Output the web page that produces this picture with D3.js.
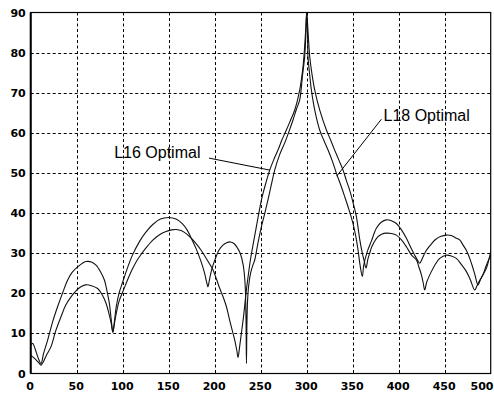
<!DOCTYPE html>
<html>
<head>
<meta charset="utf-8">
<script src="https://cdn.jsdelivr.net/npm/d3@7"></script>
<style>
  html, body { margin: 0; padding: 0; background: #fff; }
  svg { display: block; }
</style>
</head>
<body>
<svg id="chart" width="494" height="394"></svg>
<script>
// ---- data ----
const xTicks = [0, 50, 100, 150, 200, 250, 300, 350, 400, 450, 500];
const yTicks = [0, 10, 20, 30, 40, 50, 60, 70, 80, 90];

const l16X = [0,3,5.8,9,11.2,13.5,17,22.1,27,33,38,43.8,50,55,60,66,72.8,78,81.9,85,87.5,89.3,91,93,96,100,105,110,115,120,126,133,140,147,153,158.3,164,170,175,180,185,190,194,198.2,202,205,209,212.7,216,219,221.7,224,225.4,227,229,231.5,234.4,236.5,238.8,242,245.3,248,250.8,255,259.8,264,268.8,273,277.9,282.5,287,292.4,296,298.9,300,301.5,303.3,305.5,308.7,314.1,321.4,326,330.4,335,339.5,343,346.7,350.5,354,357.6,360,362.5,364.5,366.5,368.5,371,377.5,382,386.6,392,397.5,403,408.4,414,419.2,422,424.7,426.7,428.3,430.5,435.5,440,444.6,451.8,457,462.7,468,473.6,478,482.6,485,488,491.6,495.3,500];
const l16Y = [4.6,4.0,3.4,2.6,2.1,2.8,4.5,6.7,10.5,14.2,17,19.1,20.8,21.7,22.1,21.9,21.2,19.5,17.5,15,12.5,10.3,12.5,15,18,20.3,23.2,25.8,28,29.7,31.5,33.3,34.6,35.4,35.8,35.9,35.6,34.7,33.6,32.3,30.8,29,27.5,25.8,23.5,21.5,19.2,16.7,13.5,10.8,8.4,5.8,4.0,6.5,10,14.5,20.8,24.5,28.3,32.5,36.6,40,43.3,47,50.7,53.2,55.7,58.2,60.7,63.2,65.7,70.7,76.5,85.6,90,85,79,75,70.7,65.7,60.7,58.2,55.7,53.2,50.7,48.2,45.7,42.5,39.1,33.5,30.5,28,26.3,28.5,30,31.7,34.1,34.8,35.0,34.9,34.5,33.3,31.6,29.5,28.3,26.5,24.6,22.5,20.8,22.8,25.4,27.3,28.7,29.5,29.3,28.7,27.2,25.4,23.3,20.8,21.8,23.2,24.6,27,29.5];

const l18X = [0,2.2,5,7.6,11.2,14,18.5,24,29.3,35,40.2,45,51.1,60,66,71,76,80.1,83,85.5,87.5,89.3,91,93,96,100,105,110,118.5,125,133,141,150,158,165,170,175,180,185,189,191.5,192.7,194,196,198.2,201.8,205,209,213,217,221,225,228,231,233,234,234.5,235,235.7,237,239,241.5,243.5,247,250.8,254.5,257.9,261.5,265.2,270.5,276.1,281,285.1,289,292.4,295.3,297.8,299,300,301,301.4,303,305.1,308.7,314.1,318.5,323.2,328,332.3,337,341.3,346,350.3,353.5,355.8,358,360.5,362,366,370.3,375.7,381,386.6,392,397.5,403,408.4,413,417.4,420.5,422.8,425.5,429,433.7,440,446,451.8,457,462,466.3,470,474,477.2,480,483,486.2,489,492,495.3,500];
const l18Y = [7.1,7.5,6.0,4.2,2.5,5,8.4,13,16.7,20.3,23.3,25.2,26.6,27.9,27.8,27.0,25.3,23.3,20.5,17.5,13.5,10.3,13,16.7,20,22.8,26.2,29.2,33,35.2,37.2,38.5,38.9,38.5,37.3,35.8,33.5,31,28,25,22.5,21.6,23,25.2,27,29.3,30.9,32.0,32.6,32.8,32.4,31.2,29.8,27,22.5,14,2.5,12,18,22,25,27,28.3,32.5,36.6,40,43.3,47,50.7,54.5,57.5,60.5,63.2,66,68.2,74.0,79.0,84,90,84,79,75,70.7,65.7,60.7,58.2,55.7,52.9,49.9,47,44.1,40.8,37.4,34,30.8,27,24.2,27,30.5,33,36.2,37.7,38.3,38.1,37.4,35.8,33.7,31.5,29.5,28.2,27.5,28.6,30.3,31.8,33.4,34.2,34.5,34.4,33.8,33.3,32,30.5,28.7,26.8,24.5,22.1,23.5,24.8,26.2,30.4];

const labels = ["L16 Optimal", "L18 Optimal"];
// annotation anchor points in data units
const labelText = [[184.5, 53.8], [383.5, 63.0]];
const leaderFrom = [[193.8, 53.7], [381.2, 63.4]];
const leaderTo = [[260.1, 50.7], [332.6, 49.2]];

// ---- layout ----
const svg = d3.select("#chart");
const W = 494, H = 394;
const mLeft = 30.7, mRight = 490.7, mTop = 12.5, mBottom = 373.5;

const x = d3.scaleLinear().domain([0, 500]).range([mLeft, mRight]);
const y = d3.scaleLinear().domain([0, 90]).range([mBottom, mTop]);

svg.append("rect").attr("width", W).attr("height", H).attr("fill", "#fff");

// grid
const grid = svg.append("g").attr("stroke", "#000").attr("stroke-width", 1)
  .attr("stroke-dasharray", "3,2.5").attr("fill", "none");
grid.selectAll("line.v").data(xTicks.filter(d => d > 0 && d < 500)).join("line")
  .attr("class", "v")
  .attr("x1", d => Math.round(x(d)) + 0.5).attr("x2", d => Math.round(x(d)) + 0.5)
  .attr("y1", mTop).attr("y2", mBottom);
grid.selectAll("line.h").data(yTicks.filter(d => d > 0 && d < 90)).join("line")
  .attr("class", "h")
  .attr("y1", d => Math.round(y(d)) + 0.5).attr("y2", d => Math.round(y(d)) + 0.5)
  .attr("x1", mLeft).attr("x2", mRight);

// curves
const clipId = "plotclip";
svg.append("clipPath").attr("id", clipId).append("rect")
  .attr("x", mLeft).attr("y", mTop - 1).attr("width", mRight - mLeft).attr("height", mBottom - mTop + 1);

const line = d3.line().x(d => x(d[0])).y(d => y(d[1])).curve(d3.curveCatmullRom.alpha(0.5));
const series = [d3.zip(l16X, l16Y), d3.zip(l18X, l18Y)];
svg.append("g").attr("clip-path", `url(#${clipId})`)
  .selectAll("path").data(series).join("path")
  .attr("d", line).attr("fill", "none").attr("stroke", "#111").attr("stroke-width", 1.1);

// frame
svg.append("rect").attr("x", mLeft).attr("y", mTop).attr("width", mRight - mLeft).attr("height", mBottom - mTop)
  .attr("fill", "none").attr("stroke", "#000").attr("stroke-width", 1.2);
svg.append("line").attr("x1", mLeft).attr("x2", mLeft).attr("y1", mTop).attr("y2", mBottom)
  .attr("stroke", "#000").attr("stroke-width", 2);

// axes labels
const fontFam = "'DejaVu Sans', sans-serif";
const xAxis = svg.append("g").attr("transform", `translate(0,${mBottom})`)
  .call(d3.axisBottom(x).tickValues(xTicks).tickSize(0).tickPadding(8.5).tickFormat(d3.format("d")));
xAxis.select(".domain").remove();
xAxis.selectAll("text").attr("font-family", fontFam).attr("font-weight", "bold")
  .attr("font-size", 11).attr("fill", "#000").attr("dx", -1);
// keep the last label fully inside the page (the reference shows it at the right edge)
xAxis.selectAll(".tick").filter(d => d === 500).select("text")
  .attr("text-anchor", "end").attr("dx", W - 1 - x(500));

const yAxis = svg.append("g").attr("transform", `translate(${mLeft},0)`)
  .call(d3.axisLeft(y).tickValues(yTicks).tickSize(0).tickPadding(5).tickFormat(d3.format("d")));
yAxis.select(".domain").remove();
yAxis.selectAll("text").attr("font-family", fontFam).attr("font-weight", "bold")
  .attr("font-size", 11).attr("fill", "#000");

// annotations
const ann = svg.append("g");
ann.selectAll("line").data(labels).join("line")
  .attr("x1", (d, i) => x(leaderFrom[i][0])).attr("y1", (d, i) => y(leaderFrom[i][1]))
  .attr("x2", (d, i) => x(leaderTo[i][0])).attr("y2", (d, i) => y(leaderTo[i][1]))
  .attr("stroke", "#000").attr("stroke-width", 1);
ann.selectAll("text").data(labels).join("text")
  .attr("x", (d, i) => x(labelText[i][0])).attr("y", (d, i) => y(labelText[i][1]))
  .attr("text-anchor", (d, i) => i === 0 ? "end" : "start")
  .attr("font-family", "'Liberation Sans', Arial, sans-serif").attr("font-size", 16)
  .attr("fill", "#000").text(d => d);
</script>
</body>
</html>
